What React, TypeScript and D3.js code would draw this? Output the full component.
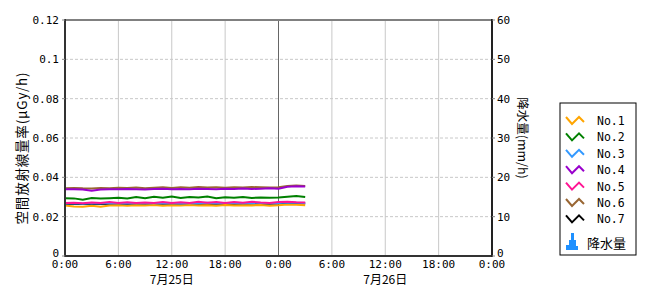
import React from "react";
import * as d3 from "d3";

const hours = [0,1,2,3,4,5,6,7,8,9,10,11,12,13,14,15,16,17,18,19,20,21,22,23,24,25,26,27];

const no1 = [0.0257,0.0252,0.0250,0.0256,0.0251,0.0257,0.0258,0.0256,0.0258,0.0257,0.0259,0.0256,0.0258,0.0257,0.0259,0.0257,0.0258,0.0256,0.0259,0.0257,0.0258,0.0257,0.0259,0.0256,0.0258,0.0262,0.0260,0.0258];
const no2 = [0.0294,0.0293,0.0286,0.0295,0.0292,0.0294,0.0296,0.0293,0.0300,0.0294,0.0301,0.0296,0.0302,0.0295,0.0300,0.0297,0.0302,0.0294,0.0299,0.0296,0.0300,0.0295,0.0298,0.0296,0.0297,0.0301,0.0305,0.0300];
const no3 = [0.0267,0.0268,0.0266,0.0268,0.0267,0.0269,0.0268,0.0267,0.0269,0.0268,0.0270,0.0268,0.0269,0.0267,0.0270,0.0268,0.0271,0.0268,0.0269,0.0270,0.0268,0.0271,0.0269,0.0268,0.0270,0.0272,0.0271,0.0270];
const no4 = [0.0340,0.0339,0.0338,0.0332,0.0338,0.0340,0.0339,0.0341,0.0340,0.0338,0.0341,0.0342,0.0340,0.0341,0.0339,0.0342,0.0341,0.0340,0.0342,0.0341,0.0343,0.0341,0.0342,0.0344,0.0342,0.0352,0.0355,0.0354];
const no5 = [0.0269,0.0271,0.0268,0.0272,0.0269,0.0274,0.0270,0.0273,0.0269,0.0272,0.0270,0.0275,0.0269,0.0273,0.0270,0.0276,0.0271,0.0274,0.0270,0.0275,0.0271,0.0276,0.0272,0.0270,0.0274,0.0276,0.0273,0.0272];
const no6 = [0.0345,0.0346,0.0344,0.0343,0.0346,0.0345,0.0347,0.0346,0.0348,0.0345,0.0347,0.0350,0.0346,0.0349,0.0347,0.0351,0.0348,0.0350,0.0347,0.0350,0.0348,0.0351,0.0349,0.0348,0.0350,0.0356,0.0358,0.0356];
const no7 = [0.0265,0.0266,0.0265,0.0266,0.0265,0.0266,0.0266,0.0265,0.0267,0.0266,0.0266,0.0267,0.0266,0.0266,0.0267,0.0266,0.0267,0.0266,0.0266,0.0267,0.0266,0.0267,0.0266,0.0266,0.0267,0.0268,0.0268,0.0267];

const seriesNames = ["No.1","No.2","No.3","No.4","No.5","No.6","No.7"];
const seriesValues = [no1,no2,no3,no4,no5,no6,no7];
const seriesColors = ["#FFA500","#008000","#3399FF","#9900CC","#FF1493","#996633","#000000"];
const drawOrder = [6,0,2,4,1,5,3];

const leftTicks = [0,0.02,0.04,0.06,0.08,0.1,0.12];
const rightTicks = [0,10,20,30,40,50,60];
const xTickHours = [0,6,12,18,24,30,36,42,48];
const xTickLabels = ["0:00","6:00","12:00","18:00","0:00","6:00","12:00","18:00","0:00"];
const dayLabels = ["7月25日","7月26日"];
const dayCenters = [12,36];
const precipLabel = "降水量";

const mono = "'DejaVu Sans Mono', monospace";
const jp = "'Noto Sans CJK JP', sans-serif";

export default function App() {
  const L = 65, R = 492, T = 20, B = 256;
  const x = d3.scaleLinear().domain([0,48]).range([L,R]);
  const y = d3.scaleLinear().domain([0,0.12]).range([B,T]);
  const y2 = d3.scaleLinear().domain([0,60]).range([B,T]);
  const line = d3.line<number>().x((_, i) => x(hours[i])).y(v => y(v));

  const legX = 560, legY = 103, legW = 76, legH = 152;
  const rowY = (i: number) => 121 + i * 16.4;

  return (
    <svg width={670} height={300} style={{position:"absolute",left:0,top:0,background:"#fff"}}>
      <rect x={0} y={0} width={670} height={300} fill="#fff" />
      {leftTicks.filter(t => t > 0 && t < 0.12).map(t => (
        <line key={"h"+t} x1={L} x2={R} y1={y(t)} y2={y(t)} stroke="#c8c8c8" strokeDasharray="3,2" strokeWidth={1} />
      ))}
      {xTickHours.filter(h => h > 0 && h < 48 && h !== 24).map(h => (
        <line key={"v"+h} x1={x(h)} x2={x(h)} y1={T} y2={B} stroke="#c8c8c8" strokeWidth={1} />
      ))}
      <line x1={x(24)} x2={x(24)} y1={T} y2={B} stroke="#666" strokeWidth={1} />
      {drawOrder.map(i => (
        <path key={seriesNames[i]} d={line(seriesValues[i]) || ""} fill="none" stroke={seriesColors[i]} strokeWidth={2} />
      ))}
      <line x1={L} x2={R} y1={T} y2={T} stroke="#808080" strokeWidth={2} />
      <line x1={L} x2={R} y1={B} y2={B} stroke="#333" strokeWidth={2} />
      <line x1={L} x2={L} y1={T - 1} y2={B + 1} stroke="#333" strokeWidth={2} />
      <line x1={R} x2={R} y1={T - 1} y2={B + 1} stroke="#222" strokeWidth={2} />
      {leftTicks.map(t => (
        <g key={"lt"+t}>
          <line x1={L - 3} x2={L} y1={y(t)} y2={y(t)} stroke="#888" />
          <text x={L - 6} y={t === 0 ? y(t) - 3 : y(t)} dy="0.35em" textAnchor="end" fontFamily={mono} fontSize={11} fill="#000">{String(t)}</text>
        </g>
      ))}
      {rightTicks.map(t => (
        <g key={"rt"+t}>
          <line x1={R} x2={R + 3} y1={y2(t)} y2={y2(t)} stroke="#888" />
          <text x={R + 5} y={t === 0 ? y2(t) - 3 : y2(t)} dy="0.35em" textAnchor="start" fontFamily={mono} fontSize={11} fill="#000">{String(t)}</text>
        </g>
      ))}
      {xTickHours.map((h, i) => (
        <text key={"xt"+i} x={x(h)} y={268} textAnchor="middle" fontFamily={mono} fontSize={11} fill="#000">{xTickLabels[i]}</text>
      ))}
      {dayLabels.map((d, i) => (
        <text key={"d"+i} x={x(dayCenters[i])} y={284} textAnchor="middle" fontFamily={jp} fontSize={12} fill="#000">{d}</text>
      ))}
      <text transform={`translate(27,${(T + B) / 2 + 10}) rotate(-90)`} textAnchor="middle" fontFamily={jp} fontSize={13.5} letterSpacing={0.8} fill="#000">空間放射線量率(μGy/h)</text>
      <text transform={`translate(518,138) rotate(90)`} textAnchor="middle" fontFamily={jp} fontSize={12.5} fill="#000">降水量(mm/h)</text>
      <rect x={legX} y={legY} width={legW} height={legH} fill="#fff" stroke="#000" strokeWidth={1} />
      {seriesNames.map((n, i) => {
        const cy = rowY(i);
        const pts = `${566},${cy - 4} ${572},${cy + 3} ${579},${cy - 4} ${584},${cy + 1}`;
        return (
          <g key={"lg"+n}>
            <polyline points={pts} fill="none" stroke={seriesColors[i]} strokeWidth={2} />
            <text x={597} y={cy} dy="0.35em" fontFamily={mono} fontSize={11.5} fill="#000">{n}</text>
          </g>
        );
      })}
      <path d="M566,250 L566,245 L569,245 L569,240 L571,240 L571,233 L574,233 L574,240 L576,240 L576,246 L578,246 L578,250 Z" fill="#1E90FF" />
      <text x={587} y={243} dy="0.35em" fontFamily={jp} fontSize={13} fill="#000">{precipLabel}</text>
    </svg>
  );
}
